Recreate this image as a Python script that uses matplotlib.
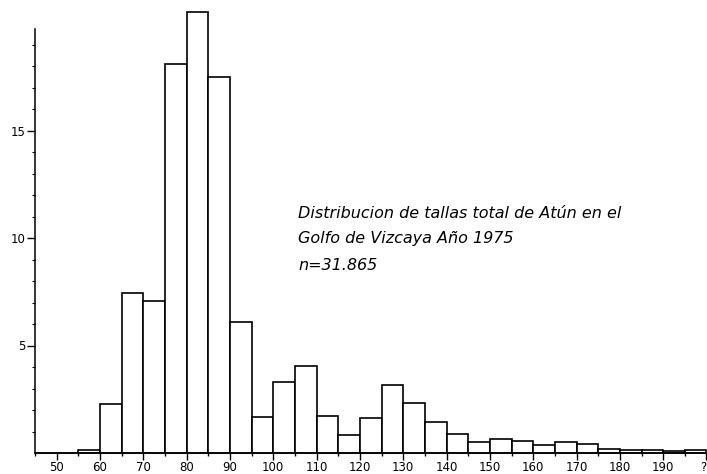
import numpy as np
import matplotlib.pyplot as plt
from matplotlib.ticker import MultipleLocator, FixedLocator

# bin left edges (cm) and percentage of fish in each 5 cm class
bin_left = [45, 50, 55, 60, 65, 70, 75, 80, 85, 90, 95, 100, 105, 110, 115,
            120, 125, 130, 135, 140, 145, 150, 155, 160, 165, 170, 175, 180,
            185, 190, 195]
pct = [0.0, 0.0, 0.15, 2.3, 7.45, 7.07, 18.1, 20.5, 17.5, 6.1, 1.67, 3.3, 4.05,
       1.72, 0.84, 1.63, 3.16, 2.33, 1.44, 0.88, 0.51, 0.65, 0.56, 0.37, 0.51,
       0.42, 0.2, 0.12, 0.12, 0.1, 0.15]
x_ticks = [50, 60, 70, 80, 90, 100, 110, 120, 130, 140, 150, 160, 170, 180, 190, 200]
x_labels = ["50", "60", "70", "80", "90", "100", "110", "120", "130", "140",
            "150", "160", "170", "180", "190", "?"]
y_ticks = [5, 10, 15]
note = ["Distribucion de tallas total de Atún en el",
        "Golfo de Vizcaya Año 1975",
        "n=31.865"]

fig = plt.figure(figsize=(7.07, 4.74), dpi=100)
ax = fig.add_axes([35 / 707, 21 / 474, 671.5 / 707, 448 / 474])

ax.bar(bin_left, pct, width=5, align="edge", facecolor="white",
       edgecolor="black", linewidth=1.2, clip_on=False)

ax.set_xlim(45, 200)
ax.set_ylim(0, 448 / 21.5)

for s in ["top", "right"]:
    ax.spines[s].set_visible(False)
ax.spines["left"].set_bounds(0, 19.7)
ax.spines["left"].set_linewidth(1.1)
ax.spines["bottom"].set_linewidth(1.1)

ax.set_xticks(x_ticks)
ax.set_xticklabels(x_labels)
ax.xaxis.set_minor_locator(MultipleLocator(5))
ax.set_yticks(y_ticks)
ax.set_yticklabels([str(v) for v in y_ticks])
ax.yaxis.set_minor_locator(FixedLocator(list(range(1, 20))))

ax.tick_params(axis="x", which="major", direction="out", length=5, width=1,
               labelsize=8.5, pad=1)
ax.tick_params(axis="x", which="minor", direction="out", length=2.5, width=1)
ax.tick_params(axis="y", which="major", direction="out", length=6, width=1,
               labelsize=8.5, pad=1)
ax.tick_params(axis="y", which="minor", direction="out", length=2, width=0.8)
ax.get_xticklabels()[-1].set_ha("right")

# annotation in the middle of the plot
for i, line in enumerate(note):
    fig.text(298 / 707, 1 - (213 + i * 26) / 474, line, fontsize=11.5,
             style="italic", va="center", ha="left", color="black")

fig.savefig("out.png", dpi=100)
